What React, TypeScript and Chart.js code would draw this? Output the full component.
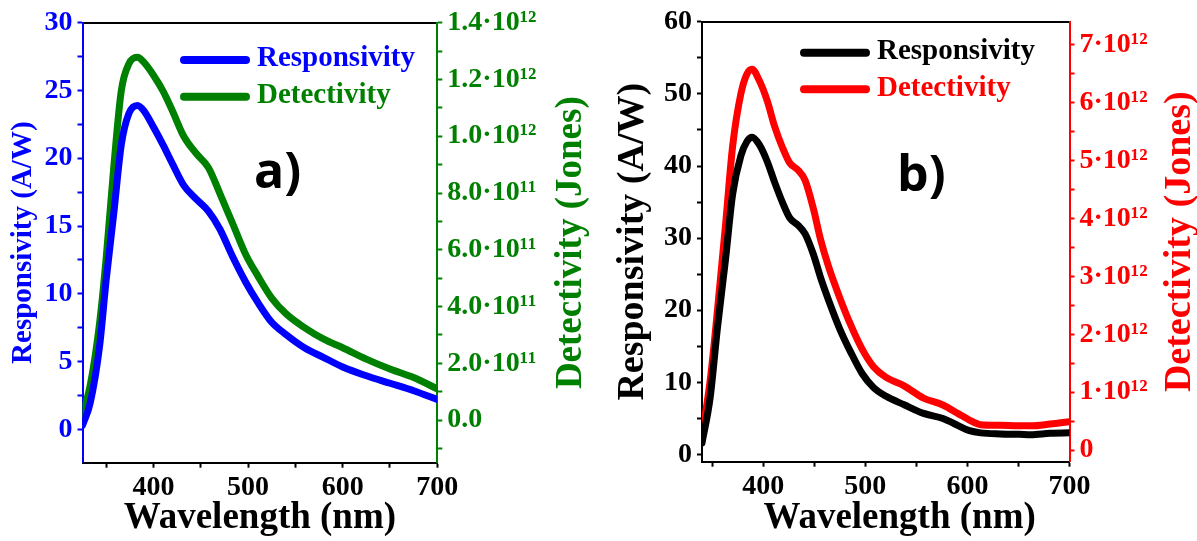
import React, { useEffect, useRef } from 'react';
import { Chart, registerables } from 'chart.js';

Chart.register(...registerables);

// ---------- Panel a data ----------
const wavelengthA = [325, 333, 343, 350, 358, 366, 374, 383, 390, 400, 410, 420, 432, 445, 458, 470, 484, 498, 510, 525, 540, 560, 580, 600, 625, 650, 675, 700];
const responsivityA = [0.3, 1.9, 6.1, 11.0, 15.9, 21.0, 23.3, 23.9, 23.5, 22.3, 21.0, 19.6, 18.0, 17.0, 16.1, 14.8, 12.7, 10.8, 9.4, 7.9, 7.0, 6.0, 5.3, 4.6, 3.95, 3.4, 2.85, 2.2];
const detectivityA = [0.02e12, 0.12e12, 0.34e12, 0.57e12, 0.89e12, 1.16e12, 1.255e12, 1.278e12, 1.26e12, 1.215e12, 1.16e12, 1.09e12, 1.0e12, 0.94e12, 0.89e12, 0.8e12, 0.69e12, 0.58e12, 0.51e12, 0.43e12, 0.375e12, 0.325e12, 0.285e12, 0.255e12, 0.215e12, 0.18e12, 0.15e12, 0.11e12];

// ---------- Panel b data ----------
const wavelengthB = [340, 348, 355, 363, 370, 378, 384, 389, 396, 404, 411, 419, 426, 434, 441, 449, 456, 464, 475, 486, 497, 508, 520, 538, 557, 576, 591, 602, 613, 632, 651, 662, 681, 700];
const responsivityB = [1.6, 7.9, 17.4, 27.0, 36.1, 41.4, 43.4, 44.0, 43.0, 40.6, 37.8, 34.9, 32.8, 31.8, 30.6, 27.8, 24.6, 21.4, 17.4, 14.1, 11.2, 9.3, 8.1, 6.9, 5.7, 5.0, 4.0, 3.3, 3.0, 2.85, 2.8, 2.75, 2.95, 3.0];
const detectivityB = [0.25e12, 1.2e12, 2.39e12, 3.88e12, 5.25e12, 6.15e12, 6.5e12, 6.58e12, 6.39e12, 6.03e12, 5.6e12, 5.22e12, 4.96e12, 4.84e12, 4.66e12, 4.18e12, 3.65e12, 3.17e12, 2.63e12, 2.15e12, 1.74e12, 1.44e12, 1.26e12, 1.11e12, 0.9e12, 0.78e12, 0.63e12, 0.52e12, 0.44e12, 0.43e12, 0.42e12, 0.42e12, 0.45e12, 0.49e12];

// ---------- Ticks ----------
const xTickValues = [350, 400, 450, 500, 550, 600, 650, 700];
const xTickLabels = ['', '400', '', '500', '', '600', '', '700'];

const respTickValuesA = [0, 2.5, 5, 7.5, 10, 12.5, 15, 17.5, 20, 22.5, 25, 27.5, 30];
const respTickLabelsA = ['0', '', '5', '', '10', '', '15', '', '20', '', '25', '', '30'];
const detTickValuesA = [-0.1e12, 0, 0.1e12, 0.2e12, 0.3e12, 0.4e12, 0.5e12, 0.6e12, 0.7e12, 0.8e12, 0.9e12, 1.0e12, 1.1e12, 1.2e12, 1.3e12, 1.4e12];
const detTickLabelsA = ['', '0.0', '', '2.0·10¹¹', '', '4.0·10¹¹', '', '6.0·10¹¹', '', '8.0·10¹¹', '', '1.0·10¹²', '', '1.2·10¹²', '', '1.4·10¹²'];

const respTickValuesB = [0, 5, 10, 15, 20, 25, 30, 35, 40, 45, 50, 55, 60];
const respTickLabelsB = ['0', '', '10', '', '20', '', '30', '', '40', '', '50', '', '60'];
const detTickValuesB = [0, 0.5e12, 1e12, 1.5e12, 2e12, 2.5e12, 3e12, 3.5e12, 4e12, 4.5e12, 5e12, 5.5e12, 6e12, 6.5e12, 7e12];
const detTickLabelsB = ['0', '', '1·10¹²', '', '2·10¹²', '', '3·10¹²', '', '4·10¹²', '', '5·10¹²', '', '6·10¹²', '', '7·10¹²'];

const SERIF = "'Liberation Serif', 'Times New Roman', serif";
const TICK_FONT = { family: SERIF, weight: 'bold' as const, size: 28 };

function pts(xs: number[], ys: number[]) {
  return xs.map((x, i) => ({ x, y: ys[i] }));
}

function fixedTicks(values: number[]) {
  return (scale: any) => {
    scale.ticks = values.map((v) => ({ value: v }));
  };
}

function decorPlugin(cfg: any) {
  return {
    id: 'decor',
    afterDraw(chart: any) {
      const ctx = chart.ctx;
      ctx.save();
      chart.data.datasets.forEach((ds: any, i: number) => {
        const y = cfg.legendY + i * cfg.legendRow;
        ctx.strokeStyle = ds.borderColor;
        ctx.lineWidth = 8;
        ctx.lineCap = 'round';
        ctx.beginPath();
        ctx.moveTo(cfg.legendX + 4, y);
        ctx.lineTo(cfg.legendX + cfg.legendLen - 4, y);
        ctx.stroke();
        ctx.fillStyle = ds.borderColor;
        ctx.font = `bold 29px ${SERIF}`;
        ctx.textBaseline = 'middle';
        ctx.textAlign = 'left';
        ctx.fillText(ds.label, cfg.legendX + cfg.legendLen + cfg.legendGap, y - 1);
      });
      ctx.font = `bold ${cfg.tagSize}px 'Open Sans', sans-serif`;
      ctx.fillStyle = '#000';
      ctx.textBaseline = 'alphabetic';
      ctx.textAlign = 'left';
      ctx.fillText(cfg.tag, cfg.tagX, cfg.tagY);
      const ca = chart.chartArea;
      ctx.translate(cfg.rTitleX, (ca.top + ca.bottom) / 2);
      ctx.rotate(-Math.PI / 2);
      ctx.textAlign = 'center';
      ctx.textBaseline = 'middle';
      ctx.font = `bold ${cfg.rTitleSize}px ${SERIF}`;
      ctx.fillStyle = cfg.rTitleColor;
      ctx.fillText(cfg.rTitle, 0, 0);
      ctx.restore();
    },
  };
}

function makeConfig(p: any): any {
  return {
    type: 'line',
    data: {
      datasets: [
        {
          label: 'Responsivity',
          data: pts(p.wl, p.resp),
          yAxisID: 'y',
          borderColor: p.respColor,
          backgroundColor: p.respColor,
          borderWidth: 7,
          pointRadius: 0,
          cubicInterpolationMode: 'monotone',
          borderCapStyle: 'round',
          borderJoinStyle: 'round',
          clip: 0,
        },
        {
          label: 'Detectivity',
          data: pts(p.wl, p.det),
          yAxisID: 'y1',
          borderColor: p.detColor,
          backgroundColor: p.detColor,
          borderWidth: 7,
          pointRadius: 0,
          cubicInterpolationMode: 'monotone',
          borderCapStyle: 'round',
          borderJoinStyle: 'round',
          clip: 0,
        },
      ],
    },
    options: {
      responsive: false,
      animation: false,
      devicePixelRatio: 1,
      layout: { padding: { top: p.top, left: 0, right: 0, bottom: 0 } },
      plugins: { legend: { display: false }, tooltip: { enabled: false } },
      scales: {
        x: {
          type: 'linear',
          position: 'bottom',
          min: p.xMin,
          max: 700,
          afterBuildTicks: fixedTicks(xTickValues),
          afterFit: (s: any) => { s.height = p.xH; },
          border: { color: '#000', width: 2 },
          grid: { display: true, drawOnChartArea: false, drawTicks: true, tickLength: 5, tickWidth: 2, tickColor: '#000' },
          ticks: {
            autoSkip: false,
            maxRotation: 0,
            padding: 3,
            color: '#000',
            font: TICK_FONT,
            callback: (_v: any, i: number) => xTickLabels[i],
          },
          title: {
            display: true,
            text: p.xTitle,
            color: '#000',
            font: { family: SERIF, weight: 'bold', size: 37, lineHeight: 1.2 },
            padding: { top: 0, bottom: 0 },
          },
        },
        xTop: {
          type: 'linear',
          position: 'top',
          min: p.xMin,
          max: 700,
          afterFit: (s: any) => { s.height = 0; },
          border: { color: '#000', width: 2 },
          grid: { display: false },
          ticks: { display: false },
        },
        y: {
          type: 'linear',
          position: 'left',
          min: p.yMin,
          max: p.yMax,
          afterBuildTicks: fixedTicks(p.yTicks),
          afterFit: (s: any) => { s.width = p.left; },
          border: { color: p.leftColor, width: 2 },
          grid: { display: true, drawOnChartArea: false, drawTicks: true, tickLength: 5, tickWidth: 2, tickColor: p.leftColor },
          ticks: {
            autoSkip: false,
            padding: 5,
            color: p.leftColor,
            font: TICK_FONT,
            callback: (_v: any, i: number) => p.yLabels[i],
          },
          title: {
            display: true,
            text: 'Responsivity (A/W)',
            color: p.leftColor,
            font: { family: SERIF, weight: 'bold', size: p.lTitleSize, lineHeight: 1.2 },
            padding: { top: p.lTitlePad, bottom: 0 },
          },
        },
        y1: {
          type: 'linear',
          position: 'right',
          min: p.y1Min,
          max: p.y1Max,
          afterBuildTicks: fixedTicks(p.y1Ticks),
          afterFit: (s: any) => { s.width = p.rightW; },
          border: { color: p.detColor, width: 2 },
          grid: { display: true, drawOnChartArea: false, drawTicks: true, tickLength: 5, tickWidth: 2, tickColor: p.detColor },
          ticks: {
            autoSkip: false,
            padding: 5,
            color: p.detColor,
            font: TICK_FONT,
            callback: (_v: any, i: number) => p.y1Labels[i],
          },
        },
      },
    },
    plugins: [decorPlugin(p.decor)],
  };
}

function Panel({ left, width, params }: { left: number; width: number; params: any }) {
  const ref = useRef<HTMLCanvasElement>(null);
  useEffect(() => {
    const chart = new Chart(ref.current as HTMLCanvasElement, makeConfig(params));
    return () => chart.destroy();
  }, []);
  return (
    <canvas
      ref={ref}
      width={width}
      height={541}
      style={{ position: 'absolute', left, top: 0, width, height: 541 }}
    />
  );
}

const BLUE = '#0000ff';
const GREEN = '#008000';
const RED = '#ff0000';
const BLACK = '#000000';

const paramsA = {
  wl: wavelengthA,
  resp: responsivityA,
  det: detectivityA,
  respColor: BLUE,
  detColor: GREEN,
  leftColor: BLUE,
  xMin: 325,
  xH: 541 - 462.7,
  top: 22.7,
  left: 82.5,
  rightW: 600 - 437.3,
  yMin: -2.46,
  yMax: 30,
  yTicks: respTickValuesA,
  yLabels: respTickLabelsA,
  y1Min: -0.15e12,
  y1Max: 1.4e12,
  y1Ticks: detTickValuesA,
  y1Labels: detTickLabelsA,
  xTitle: 'Wavelength (nm)',
  lTitleSize: 29,
  lTitlePad: 6,
  decor: {
    legendX: 180, legendY: 60, legendRow: 36.7, legendLen: 70, legendGap: 7,
    tag: 'a)', tagX: 254, tagY: 188, tagSize: 50,
    rTitle: 'Detectivity (Jones)', rTitleX: 571, rTitleSize: 37, rTitleColor: GREEN,
  },
};

const paramsB = {
  wl: wavelengthB,
  resp: responsivityB,
  det: detectivityB,
  respColor: BLACK,
  detColor: RED,
  leftColor: BLACK,
  xMin: 340,
  xH: 541 - 461.7,
  top: 20,
  left: 102,
  rightW: 597 - 469.5,
  yMin: -1,
  yMax: 60,
  yTicks: respTickValuesB,
  yLabels: respTickLabelsB,
  y1Min: -0.2e12,
  y1Max: 7.4e12,
  y1Ticks: detTickValuesB,
  y1Labels: detTickLabelsB,
  xTitle: '   Wavelength (nm)',
  lTitleSize: 38,
  lTitlePad: 10,
  decor: {
    legendX: 200, legendY: 52.7, legendRow: 36.6, legendLen: 70, legendGap: 7,
    tag: 'b)', tagX: 297, tagY: 191, tagSize: 50,
    rTitle: 'Detectivity (Jones)', rTitleX: 580, rTitleSize: 38, rTitleColor: RED,
  },
};

export default function App() {
  return (
    <div style={{ position: 'fixed', left: 0, top: 0, width: 1197, height: 541, background: '#ffffff', overflow: 'hidden' }}>
      <Panel left={0} width={600} params={paramsA} />
      <Panel left={600} width={597} params={paramsB} />
    </div>
  );
}
